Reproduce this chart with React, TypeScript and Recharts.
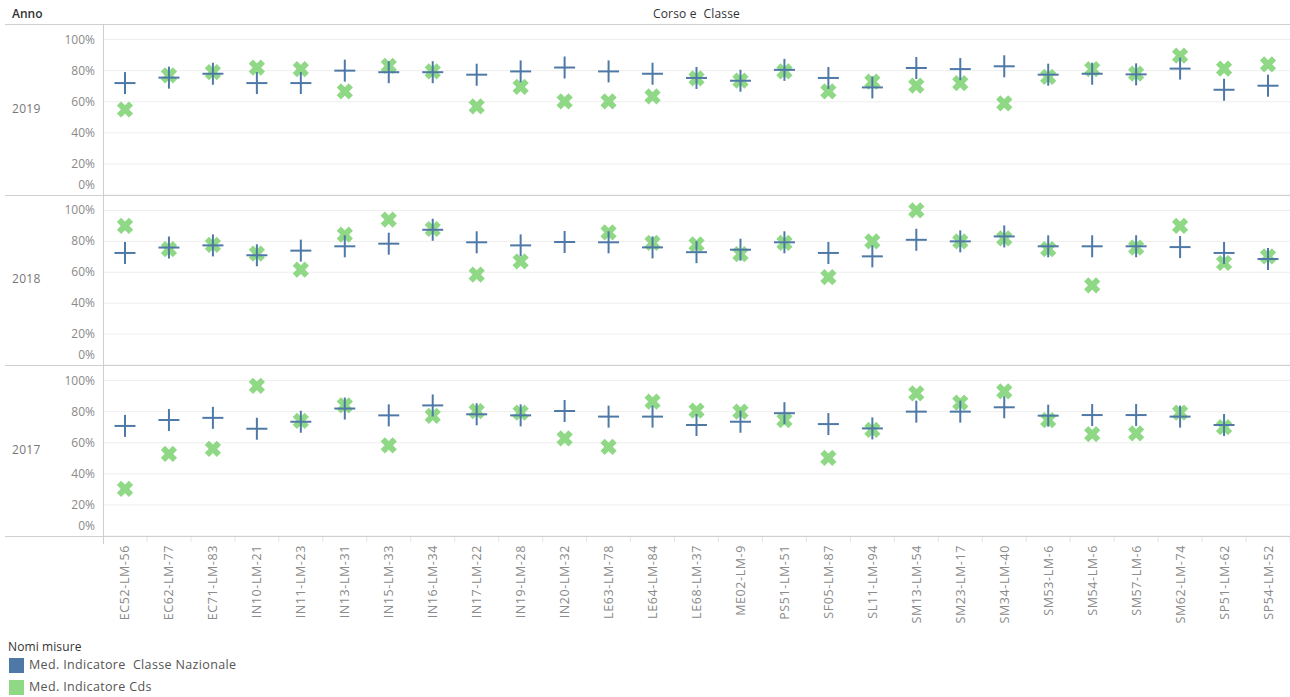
import { ScatterChart, Scatter, XAxis, YAxis, CartesianGrid } from "recharts";

const categories = [
  "EC52-LM-56", "EC62-LM-77", "EC71-LM-83", "IN10-LM-21", "IN11-LM-23",
  "IN13-LM-31", "IN15-LM-33", "IN16-LM-34", "IN17-LM-22", "IN19-LM-28",
  "IN20-LM-32", "LE63-LM-78", "LE64-LM-84", "LE68-LM-37", "ME02-LM-9",
  "PS51-LM-51", "SF05-LM-87", "SL11-LM-94", "SM13-LM-54", "SM23-LM-17",
  "SM34-LM-40", "SM53-LM-6", "SM54-LM-6", "SM57-LM-6", "SM62-LM-74",
  "SP51-LM-62", "SP54-LM-52",
];

const years = ["2019", "2018", "2017"];
const seriesNames = ["Med. Indicatore  Classe Nazionale", "Med. Indicatore Cds"];
const yTicks = [0, 20, 40, 60, 80, 100];

// values in %, null = no mark
const nazionale2019 = [72, 75.5, 78, 72, 72, 80, 79, 79, 77.4, 79.5, 82, 79.5, 78, 75.3, 73.5, 80.5, 75.3, 69.2, 81.7, 81, 82.8, 77.4, 78, 77.6, 81.3, 67.7, 70.3];
const cds2019 = [55, 77, 79, 82, 81, 66.7, 83, 79.5, 57, 69.5, 60.2, 60.2, 63.4, 75, 73.5, 79.6, 66.7, 73, 70.3, 72, 59, 76, 81, 78, 89.7, 81.3, 84];

const nazionale2018 = [72.5, 76, 77.4, 71, 74, 76.8, 78.5, 87.5, 79.4, 77.4, 79.6, 79.4, 76.1, 73, 74.6, 79.4, 72.5, 70.3, 81, 80, 83.2, 76.8, 76.8, 76.8, 76.3, 72.5, 68.6];
const cds2018 = [90, 75, 77.8, 72, 61.7, 84.3, 94, 88, 58.5, 67, null, 85.8, 79, 78, 71.8, 79, 56.8, 80, 100, 80, 82, 75, 51.6, 76, 90, 66, 70.3];

const nazionale2017 = [70.8, 74.6, 76, 69, 73.5, 82, 77.6, 84, 78.3, 77.6, 80.4, 76.8, 76.8, 71.4, 73.5, 79, 72, 69.2, 80, 80, 82.8, 77.4, 77.8, 77.8, 76.8, 71.4, null];
const cds2017 = [30.3, 52.9, 56, 96.6, 74, 84, 58.3, 77.2, 80.4, 79.4, 62.8, 57.4, 86.5, 80.6, 80, 74.6, 50.3, 68.2, 91.8, 85.8, 93, 74.6, 65.6, 66, 79.4, 70, null];

const BLUE = "#4e79a7";
const GREEN = "#8fd885";
const FONT = "'Open Sans', sans-serif";
const LINE = "#cfcfcf";
const AXIS_W = 103;
const COL_W = (1290 - AXIS_W) / categories.length;

const panels = [
  { year: years[0], naz: nazionale2019, cds: cds2019, top: 24, height: 171 },
  { year: years[1], naz: nazionale2018, cds: cds2018, top: 195, height: 170 },
  { year: years[2], naz: nazionale2017, cds: cds2017, top: 365, height: 171 },
];

const toPoints = (values: (number | null)[]) =>
  values
    .map((v, i) => ({ x: i, y: v }))
    .filter((p) => p.y !== null);

const PlusShape = (props: any) => {
  const { cx, cy } = props;
  return (
    <g>
      <line x1={cx - 10.5} x2={cx + 10.5} y1={cy} y2={cy} stroke={BLUE} strokeWidth={2} />
      <line x1={cx} x2={cx} y1={cy - 11} y2={cy + 11} stroke={BLUE} strokeWidth={2} />
    </g>
  );
};

const CrossShape = (props: any) => {
  const { cx, cy } = props;
  const d = 6;
  return (
    <g>
      <line x1={cx - d} y1={cy - d} x2={cx + d} y2={cy + d} stroke={GREEN} strokeWidth={6} />
      <line x1={cx - d} y1={cy + d} x2={cx + d} y2={cy - d} stroke={GREEN} strokeWidth={6} />
    </g>
  );
};

const YTick = (props: any) => {
  const { x, y, payload } = props;
  return (
    <text
      x={x}
      y={payload.value === 0 ? y - 10 : y}
      dy={4}
      textAnchor="end"
      fill="#8a8a8a"
      fontSize={12}
      fontFamily={FONT}
    >
      {payload.value}%
    </text>
  );
};

const XTick = (props: any) => {
  const { x, y, payload } = props;
  return (
    <g>
      <line x1={x + COL_W / 2} x2={x + COL_W / 2} y1={y - 8} y2={y - 2} stroke="#e4e4e4" />
      <text
        x={x}
        y={y + 1}
        dy={4.5}
        transform={`rotate(-90, ${x}, ${y + 1})`}
        textAnchor="end"
        fill="#8a8a8a"
        fontSize={12.5}
        letterSpacing={0.6}
        fontFamily={FONT}
      >
        {categories[payload.value]}
      </text>
    </g>
  );
};

const label = (text: string, left: number, top: number, extra: any = {}) => (
  <div
    style={{
      position: "absolute",
      left,
      top,
      fontFamily: FONT,
      fontSize: 12.5,
      letterSpacing: 0.35,
      lineHeight: "14px",
      whiteSpace: "pre",
      color: "#333",
      ...extra,
    }}
  >
    {text}
  </div>
);

export default function App() {
  return (
    <div
      style={{
        position: "absolute",
        left: 0,
        top: 0,
        width: 1290,
        height: 697,
        background: "#fff",
        overflow: "hidden",
      }}
    >
      {label("Anno", 12, 7, { fontWeight: 600, fontSize: 12, letterSpacing: 0 })}
      {label("Corso e  Classe", 0, 7, { width: 1393, textAlign: "center", fontSize: 12, letterSpacing: 0.2 })}

      {panels.map((p, i) => {
        const last = i === panels.length - 1;
        return (
          <div
            key={p.year}
            style={{ position: "absolute", left: 0, top: p.top }}
          >
            <ScatterChart
              width={1290}
              height={p.height + (last ? 100 : 0)}
              margin={{ top: 0, right: 0, bottom: 0, left: 0 }}
            >
              <CartesianGrid vertical={false} stroke="#eeeeee" />
              <XAxis
                type="number"
                dataKey="x"
                domain={[-0.5, categories.length - 0.5]}
                ticks={categories.map((_, k) => k)}
                interval={0}
                hide={!last}
                height={100}
                axisLine={false}
                tickLine={false}
                tick={<XTick />}
              />
              <YAxis
                type="number"
                dataKey="y"
                domain={[0, 110]}
                ticks={yTicks}
                interval={0}
                width={AXIS_W}
                axisLine={false}
                tickLine={false}
                tick={<YTick />}
              />
              <Scatter
                name={seriesNames[1]}
                data={toPoints(p.cds)}
                shape={CrossShape}
                isAnimationActive={false}
              />
              <Scatter
                name={seriesNames[0]}
                data={toPoints(p.naz)}
                shape={PlusShape}
                isAnimationActive={false}
              />
            </ScatterChart>
            {label(p.year, 12, p.height / 2 - 8, { color: "#777", fontSize: 12, letterSpacing: 0.3 })}
          </div>
        );
      })}

      {/* frame lines */}
      {[24, 195, 365, 536].map((t) => (
        <div
          key={t}
          style={{ position: "absolute", left: 5, top: t, width: 1285, height: 1, background: LINE }}
        />
      ))}
      <div style={{ position: "absolute", left: AXIS_W, top: 24, width: 1, height: 520, background: LINE }} />

      {/* legend */}
      {label("Nomi misure", 8, 640, { fontSize: 12, letterSpacing: 0.1 })}
      <div style={{ position: "absolute", left: 9, top: 658, width: 15, height: 15, background: BLUE }} />
      {label(seriesNames[0], 29, 658, { color: "#555" })}
      <div style={{ position: "absolute", left: 9, top: 680, width: 15, height: 15, background: GREEN }} />
      {label(seriesNames[1], 29, 680, { color: "#555" })}
    </div>
  );
}
